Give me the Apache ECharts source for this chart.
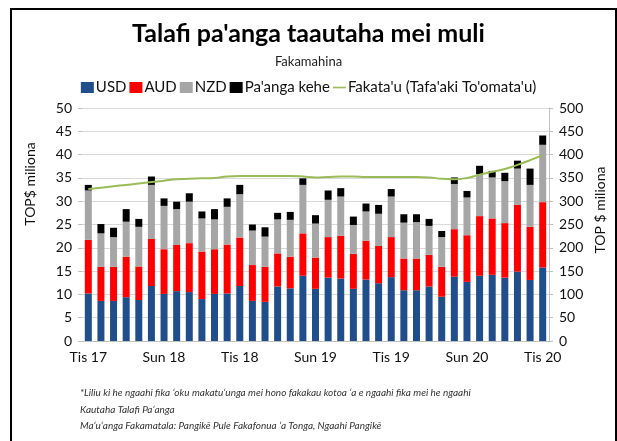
<!DOCTYPE html>
<html>
<head>
<meta charset="utf-8">
<script src="https://cdn.jsdelivr.net/npm/echarts@6/dist/echarts.min.js"></script>
<style>
  html, body { margin: 0; padding: 0; background: #fff; }
  #chart { width: 617px; height: 441px; }
</style>
</head>
<body>
<div id="chart"></div>
<script>
// Months Tis 17 (Dec 2017) .. Tis 20 (Dec 2020)
const months = ["Tis", "Sān", "Fēp", "Maʻa", "ʻEpe", "Mē", "Sun", "Siu", "ʻAok", "Sep", "ʻOka", "Nōv"];
const categories = [];
for (let i = 0; i < 37; i++) {
    const yr = 17 + Math.floor((i + 11) / 12);
    categories.push(months[i % 12] + " " + yr);
}

// Stacked values, TOP$ million (left axis)
const usd   = [10.2, 8.6, 8.6, 9.4, 8.8, 11.8, 10.1, 10.7, 10.5, 9.0, 10.1, 10.2, 11.8, 8.6, 8.4, 11.7, 11.3, 14.0, 11.2, 13.6, 13.4, 11.2, 13.2, 12.4, 13.7, 10.9, 10.9, 11.7, 9.5, 13.8, 12.7, 14.0, 14.2, 13.6, 14.9, 13.1, 15.8];
const aud   = [11.5, 7.3, 7.3, 8.7, 7.2, 10.1, 9.6, 9.9, 10.5, 10.2, 9.6, 10.5, 10.4, 7.7, 7.5, 7.1, 6.8, 9.1, 6.7, 8.7, 9.2, 7.5, 8.3, 8.0, 8.6, 6.8, 6.8, 6.8, 6.4, 10.2, 10.0, 12.8, 12.1, 11.7, 14.3, 11.4, 14.0];
const nzd   = [10.6, 7.2, 6.4, 7.5, 8.5, 11.6, 9.3, 7.7, 8.9, 7.1, 6.4, 8.1, 9.3, 7.4, 6.5, 7.3, 7.9, 10.4, 7.3, 8.0, 8.4, 6.2, 6.3, 6.9, 8.7, 7.7, 7.8, 6.2, 6.4, 9.7, 8.1, 9.0, 8.8, 9.0, 7.8, 9.0, 12.3];
const other = [1.2, 2.0, 2.0, 2.7, 1.7, 1.8, 1.6, 1.6, 1.8, 1.5, 2.2, 1.8, 2.0, 1.3, 2.0, 1.4, 1.7, 1.4, 1.8, 2.0, 1.8, 1.8, 1.7, 1.9, 1.6, 1.8, 1.7, 1.5, 1.3, 1.4, 1.4, 1.8, 1.4, 1.8, 1.7, 3.5, 2.0];

// Trend line, right axis
const trend = [326, 329, 332, 335, 338, 341, 344, 347, 348, 349, 350, 353, 354, 354, 354, 354, 354, 353, 351, 352, 353, 353, 352, 352, 352, 352, 352, 351, 348, 347, 350, 357, 363, 369, 378, 388, 399];

const footnotes = [
    "*Liliu ki he ngaahi fika ʻoku makatuʻunga mei hono fakakau kotoa ʻa e ngaahi fika mei he ngaahi",
    "Kautaha Talafi Paʻanga",
    "Maʻuʻanga Fakamatala: Pangikē Pule Fakafonua ʻa Tonga, Ngaahi Pangikē"
];

const font = "Lato, 'Open Sans', sans-serif";
const chart = echarts.init(document.getElementById('chart'));

function barSeries(name, data, color) {
    return {
        name: name,
        type: 'bar',
        stack: 'total',
        data: data,
        barWidth: 7,
        itemStyle: { color: color },
        emphasis: { disabled: true }
    };
}

const options = {
    animation: false,
    textStyle: { fontFamily: font },
    title: [
        {
            text: "Talafi pa'anga taautaha mei muli",
            left: 'center',
            top: 16,
            textStyle: { fontSize: 25, fontWeight: 'bold', color: '#000', fontFamily: font }
        },
        {
            text: "Fakamahina",
            left: 'center',
            top: 50,
            textStyle: { fontSize: 13, fontWeight: 'normal', color: '#222', fontFamily: font }
        }
    ],
    legend: {
        top: 75,
        left: 'center',
        itemWidth: 13,
        itemHeight: 11,
        itemGap: 3,
        textStyle: { fontSize: 15, color: '#111', padding: [0, 0, 0, -3] },
        data: [
            { name: 'USD', icon: 'rect' },
            { name: 'AUD', icon: 'rect' },
            { name: 'NZD', icon: 'rect' },
            { name: "Pa'anga kehe", icon: 'rect' },
            { name: "Fakata'u (Tafa'aki To'omata'u)", icon: 'path://M0,0 L16,0 L16,2 L0,2 Z' }
        ]
    },
    grid: { left: 82, right: 68, top: 108, height: 233 },
    xAxis: {
        type: 'category',
        data: categories,
        axisLine: { lineStyle: { color: '#bfbfbf' } },
        axisTick: { interval: 2, length: 4, lineStyle: { color: '#bfbfbf' } },
        axisLabel: { interval: 5, fontSize: 14, color: '#111', margin: 9 }
    },
    yAxis: [
        {
            type: 'value',
            min: 0, max: 50, interval: 5,
            axisLine: { show: false },
            axisTick: { show: true, length: 4, lineStyle: { color: '#bfbfbf' } },
            axisLabel: { fontSize: 14, color: '#111', margin: 10 },
            splitLine: { lineStyle: { color: '#d9d9d9' } }
        },
        {
            type: 'value',
            min: 0, max: 500, interval: 50,
            axisLine: { show: true, lineStyle: { color: '#bfbfbf' } },
            axisTick: { show: true, length: 4, lineStyle: { color: '#bfbfbf' } },
            axisLabel: { fontSize: 14, color: '#111', margin: 10 },
            splitLine: { show: false }
        }
    ],
    series: [
        barSeries('USD', usd, '#1F4E8A'),
        barSeries('AUD', aud, '#FF0000'),
        barSeries('NZD', nzd, '#A6A6A6'),
        barSeries("Pa'anga kehe", other, '#000000'),
        {
            name: "Fakata'u (Tafa'aki To'omata'u)",
            type: 'line',
            yAxisIndex: 1,
            data: trend,
            smooth: true,
            symbol: 'none',
            lineStyle: { color: '#9BBB59', width: 2 },
            itemStyle: { color: '#9BBB59' }
        }
    ],
    graphic: [
        {
            type: 'rect',
            shape: { x: 11, y: 9, width: 605, height: 440 },
            style: { fill: 'none', stroke: '#000', lineWidth: 2 },
            silent: true
        },
        {
            type: 'text',
            x: 30, y: 184,
            rotation: Math.PI / 2,
            style: { text: 'TOP$ miliona', font: '14px ' + font, fill: '#111', align: 'center', verticalAlign: 'middle' }
        },
        {
            type: 'text',
            x: 600, y: 210,
            rotation: Math.PI / 2,
            style: { text: 'TOP $ miliona', font: '14px ' + font, fill: '#111', align: 'center', verticalAlign: 'middle' }
        },
        {
            type: 'group',
            left: 80,
            top: 388,
            children: footnotes.map((t, i) => ({
                type: 'text',
                top: i * 16.5,
                style: { text: t, font: 'italic 10px ' + font, fill: '#333' }
            }))
        }
    ]
};

chart.setOption(options);
</script>
</body>
</html>
